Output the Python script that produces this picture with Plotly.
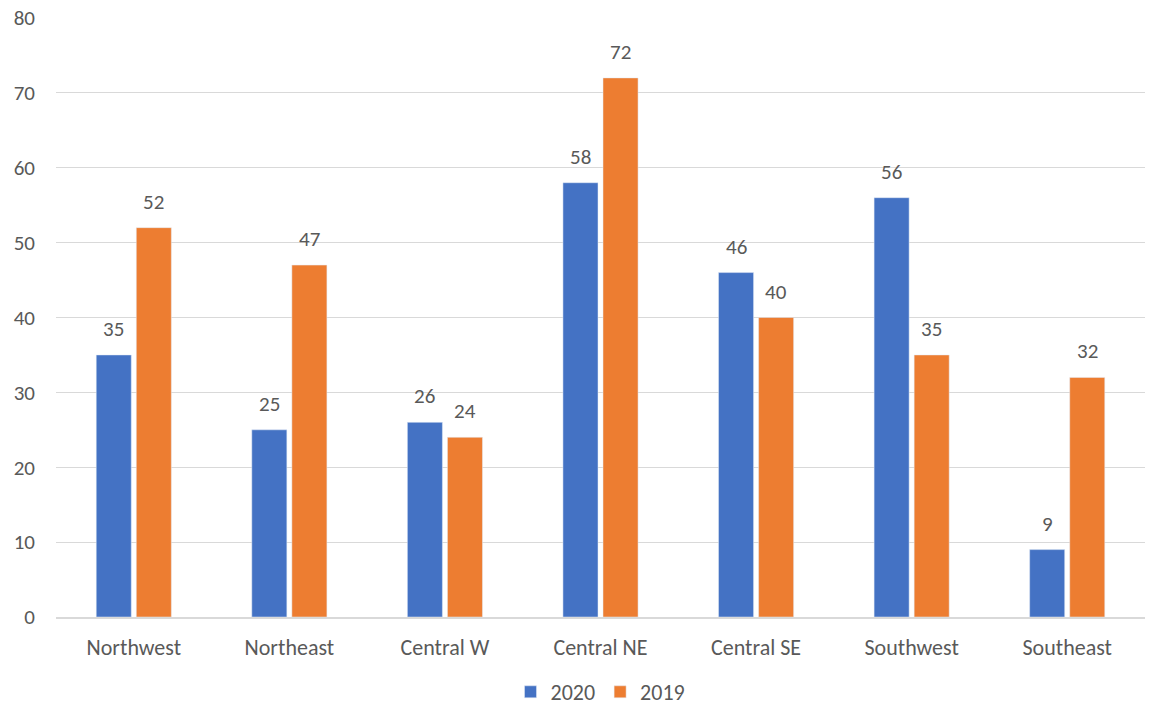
import plotly.graph_objects as go

categories = ["Northwest", "Northeast", "Central W", "Central NE", "Central SE", "Southwest", "Southeast"]
values_2020 = [35, 25, 26, 58, 46, 56, 9]
values_2019 = [52, 47, 24, 72, 40, 35, 32]
y_ticks = [0, 10, 20, 30, 40, 50, 60, 70, 80]

font_family = "Carlito, Calibri, Lato, sans-serif"
text_color = "#595959"
label_size = 21

fig = go.Figure()
fig.add_trace(go.Bar(x=categories, y=values_2020, name="2020", marker_color="#4472C4"))
fig.add_trace(go.Bar(x=categories, y=values_2019, name="2019", marker_color="#ED7D31"))

# data labels above bars
for vals, shift in ((values_2020, -20), (values_2019, 20)):
    for c, v in zip(categories, vals):
        fig.add_annotation(x=c, y=v, text=str(v), showarrow=False, xshift=shift,
                           yanchor="bottom", yshift=11,
                           font=dict(size=label_size, color=text_color, family=font_family))

fig.update_layout(
    width=1154, height=713,
    margin=dict(l=56, r=9, t=18, b=96, autoexpand=False),
    paper_bgcolor="white", plot_bgcolor="white",
    barmode="group", bargap=0.485, bargroupgap=0.125,
    font=dict(family=font_family, size=label_size, color=text_color),
    showlegend=True,
    legend=dict(orientation="h", x=0.5, xanchor="center", yref="container", y=0.0,
                yanchor="bottom", font=dict(size=22, color=text_color),
                itemwidth=30, traceorder="normal"),
    xaxis=dict(showgrid=False, showline=True, linecolor="#D9D9D9", linewidth=1.5,
               automargin=False, ticks="", ticklabelstandoff=10,
               tickfont=dict(size=22, color=text_color)),
    yaxis=dict(range=[0, 80], tickvals=y_ticks, showgrid=True, gridcolor="#D9D9D9",
               gridwidth=1, zeroline=False, ticks="", ticklen=0, ticklabelstandoff=20,
               automargin=False, tickfont=dict(size=label_size, color=text_color)),
)

fig.write_html("out.html")
